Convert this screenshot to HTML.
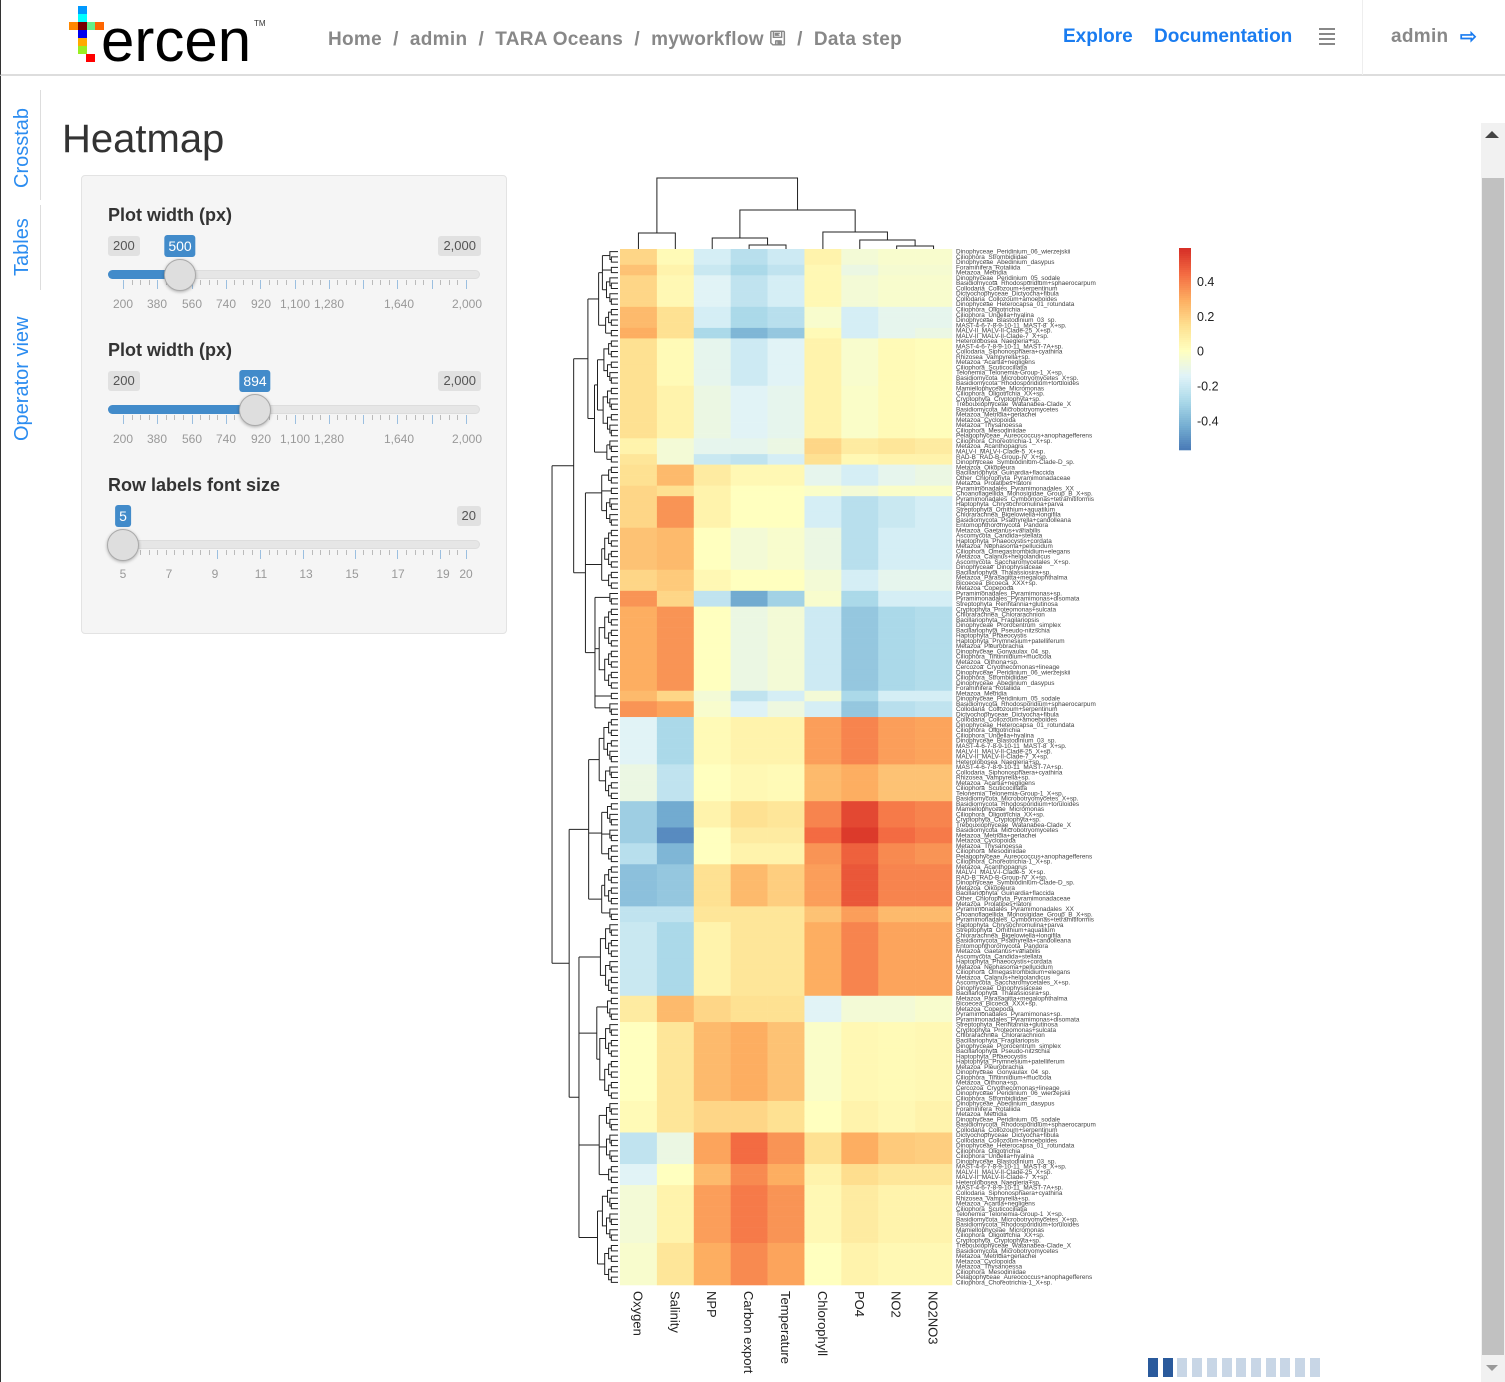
<!DOCTYPE html>
<html><head><meta charset="utf-8"><style>
*{box-sizing:border-box;margin:0;padding:0}
body{width:1505px;height:1382px;overflow:hidden;background:#fff;font-family:"Liberation Sans",sans-serif;position:relative}
.abs{position:absolute}
.nav{left:0;top:0;width:1505px;height:76px;border-bottom:2px solid #ddd;border-left:1px solid #333}
.bc{font-size:19px;font-weight:bold;color:#888;top:25px;white-space:nowrap;letter-spacing:0.3px}
.navlink{font-size:19px;font-weight:bold;color:#1a7cf0;top:25px}
.px{position:absolute;width:9px;height:8px}
.vtab{color:#2b8cf0;font-size:20px;transform:rotate(-90deg);transform-origin:left top;white-space:nowrap}
.panel{left:81px;top:175px;width:426px;height:459px;background:#f5f5f5;border:1px solid #e3e3e3;border-radius:4px}
.slabel{font-size:18px;font-weight:bold;color:#333;left:108px}
.mm{background:#e1e1e1;color:#555;font-size:13px;padding:2px 5px;border-radius:3px;height:20px;line-height:16px}
.bub{background:#428bca;color:#fff;font-size:14px;padding:2px 4px;border-radius:3px;height:22px;line-height:18px}
.track{left:108px;width:372px;height:9px;background:#e6e6e6;border:1px solid #ddd;border-radius:5px}
.fill{left:108px;height:9px;background:#428bca;border-radius:5px 0 0 5px}
.handle{width:32px;height:32px;border-radius:50%;background:#dedede;border:1px solid #aaa;box-shadow:0 1px 3px rgba(0,0,0,.3)}
.tl{font-size:12px;color:#999;transform:translateX(-50%)}
</style></head><body>
<div class="abs nav">
  <div class="abs" style="left:0;top:0;width:270px;height:76px">
    <div class="px" style="left:77px;top:6px;background:#09f"></div>
    <div class="px" style="left:77px;top:14px;background:#0ff"></div>
    <div class="px" style="left:68px;top:22px;background:#f80"></div>
    <div class="px" style="left:77px;top:22px;background:#700"></div>
    <div class="px" style="left:86px;top:22px;background:#6e8"></div>
    <div class="px" style="left:94px;top:22px;background:#f60"></div>
    <div class="px" style="left:77px;top:30px;background:#00e"></div>
    <div class="px" style="left:77px;top:38px;background:#fa0"></div>
    <div class="px" style="left:77px;top:46px;background:#9e2"></div>
    <div class="px" style="left:85px;top:54px;background:#f00"></div>
    <div class="abs" style="left:100px;top:6px;font-size:60px;color:#000;letter-spacing:0px">ercen</div>
    <div class="abs" style="left:253px;top:19px;font-size:8px;color:#333">TM</div>
  </div>
  <div class="abs bc" style="left:327px">
    <span>Home</span> &nbsp;/&nbsp; <span>admin</span> &nbsp;/&nbsp; <span>TARA Oceans</span> &nbsp;/&nbsp; <span>myworkflow &#x1F5AB;</span> &nbsp;/&nbsp; <span>Data step</span>
  </div>
  <div class="abs navlink" style="left:1062px;top:26px">Explore</div>
  <div class="abs navlink" style="left:1153px;top:26px">Documentation</div>
  <div class="abs" style="left:1318px;top:28px;width:16px">
    <div style="height:2px;background:#888;margin-bottom:3px"></div><div style="height:2px;background:#888;margin-bottom:3px"></div><div style="height:2px;background:#888;margin-bottom:3px"></div><div style="height:2px;background:#888"></div>
  </div>
  <div class="abs" style="left:1361px;top:0;width:1px;height:75px;background:#eee"></div>
  <div class="abs bc" style="left:1390px;top:26px">admin</div>
  <div class="abs" style="left:1459px;top:24px;font-size:20px;color:#1a7cf0;font-weight:bold">&#x21E8;</div>
</div>
<div class="abs" style="left:0;top:76px;width:1px;height:1306px;background:#333"></div>
<div class="abs" style="left:40px;top:90px;width:1px;height:110px;background:#ddd"></div>
<div class="abs" style="left:40px;top:205px;width:1px;height:85px;background:#ddd"></div>
<div class="abs vtab" style="left:11px;top:188px">Crosstab</div>
<div class="abs vtab" style="left:11px;top:276px">Tables</div>
<div class="abs vtab" style="left:11px;top:441px">Operator view</div>
<div class="abs" style="left:62px;top:117px;font-size:40px;color:#333">Heatmap</div>

<div class="abs panel"></div>
<div id="sliders"></div>

<div class="abs" style="left:1481px;top:123px;width:24px;height:1259px;background:#f1f1f1">
  <div class="abs" style="left:4px;top:8px;width:0;height:0;border-left:7px solid transparent;border-right:7px solid transparent;border-bottom:7px solid #444"></div>
  <div class="abs" style="left:1px;top:55px;width:22px;height:1177px;background:#c1c1c1"></div>
  <div class="abs" style="left:5px;top:1242px;width:0;height:0;border-left:6px solid transparent;border-right:6px solid transparent;border-top:6px solid #999"></div>
</div>
<div class="abs" style="left:1148px;top:1358px" id="pager"></div>

<svg id="chart" class="abs" style="left:0;top:0" width="1480" height="1382"></svg>

<script>
const columns=["Oxygen","Salinity","NPP","Carbon export","Temperature","Chlorophyll","PO4","NO2","NO2NO3"];
const bandRows=[3,2,6,4,2,9,10,3,2,4,2,6,8,4,3,16,2,3,9,7,5,3,4,8,3,14,5,15,6,6,4,11,8];
const bandValues=[
[.15,.02,-.15,-.22,-.17,.05,-.05,-.03,-.03],
[.2,.05,-.18,-.25,-.2,.03,-.08,-.04,-.04],
[.15,.03,-.12,-.2,-.15,.03,-.05,-.03,-.03],
[.22,.12,-.15,-.25,-.22,-.03,-.15,-.1,-.1],
[.25,.12,-.25,-.35,-.3,.02,-.15,-.1,-.08],
[.12,.02,-.1,-.17,-.12,.05,-.03,.02,.01],
[.12,.05,-.08,-.12,-.1,.05,-.02,.02,.01],
[.05,-.05,-.1,-.1,-.08,.15,.08,.1,.08],
[.1,-.05,-.18,-.2,-.15,.12,.03,.05,.05],
[.12,.22,.08,.03,.03,-.1,-.15,-.1,-.08],
[.15,.12,.05,0,0,-.02,-.05,-.02,-.02],
[.15,.3,.05,0,0,-.15,-.22,-.18,-.15],
[.2,.22,0,-.05,-.03,-.08,-.22,-.15,-.15],
[.15,.18,.03,0,0,-.05,-.15,-.1,-.1],
[.3,.15,-.2,-.38,-.27,-.03,-.25,-.15,-.15],
[.25,.3,0,-.08,-.05,-.17,-.3,-.25,-.23],
[.22,.15,-.05,-.2,-.15,-.05,-.25,-.15,-.15],
[.3,.27,-.03,-.13,-.07,-.15,-.3,-.22,-.2],
[-.12,-.25,.02,.05,.05,.28,.33,.28,.27],
[-.08,-.2,0,.03,.02,.22,.25,.2,.2],
[-.28,-.38,.05,.12,.1,.33,.45,.35,.33],
[-.28,-.45,0,.08,.08,.38,.48,.38,.35],
[-.22,-.35,0,.05,.05,.3,.4,.32,.3],
[-.32,-.3,.12,.22,.17,.28,.42,.33,.33],
[-.2,-.2,.1,.1,.1,.2,.28,.22,.22],
[-.18,-.25,.05,.1,.1,.25,.33,.27,.27],
[.08,.22,.15,.12,.12,-.12,-.05,-.05,-.03],
[0,.1,.22,.25,.2,-.02,.03,.02,.03],
[.02,.1,.15,.15,.12,0,.05,.03,.05],
[-.2,-.08,.27,.38,.3,.12,.25,.18,.17],
[-.12,0,.22,.32,.25,.05,.13,.1,.1],
[-.05,.05,.28,.35,.3,.03,.08,.05,.05],
[-.03,.1,.25,.32,.27,0,.05,.03,.03]];
const colorTicks=[0.4,0.2,0,-0.2,-0.4];
const labelNames=["Dinophyceae_Peridinium_06_wierzejskii","Ciliophora_Strombidiidae","Dinophyceae_Abedinium_dasypus","Foraminifera_Rotaliida","Metazoa_Metridia","Dinophyceae_Peridinium_05_sodale","Basidiomycota_Rhodosporidium+sphaerocarpum","Collodaria_Collozoum+serpentinum","Dictyochophyceae_Dictyocha+fibula","Collodaria_Collozoum+amoeboides","Dinophyceae_Heterocapsa_01_rotundata","Ciliophora_Oligotrichia","Ciliophora_Undella+hyalina","Dinophyceae_Blastodinium_03_sp.","MAST-4-6-7-8-9-10-11_MAST-8_X+sp.","MALV-II_MALV-II-Clade-25_X+sp.","MALV-II_MALV-II-Clade-7_X+sp.","Heterolobosea_Naegleria+sp.","MAST-4-6-7-8-9-10-11_MAST-7A+sp.","Collodaria_Siphonosphaera+cyathina","Rhizosea_Vampyrella+sp.","Metazoa_Acartia+negligens","Ciliophora_Scuticociliatia","Telonemia_Telonemia-Group-1_X+sp.","Basidiomycota_Microbotryomycetes_X+sp.","Basidiomycota_Rhodosporidium+toruloides","Mamiellophyceae_Micromonas","Ciliophora_Oligotrichia_XX+sp.","Cryptophyta_Cryptophyta+sp.","Trebouxiophyceae_Watanabea-Clade_X","Basidiomycota_Microbotryomycetes","Metazoa_Metridia+gerlachei","Metazoa_Cyclopoida","Metazoa_Thysanoessa","Ciliophora_Mesodiniidae","Pelagophyceae_Aureococcus+anophagefferens","Ciliophora_Choreotrichia-1_X+sp.","Metazoa_Acanthopagrus","MALV-I_MALV-I-Clade-5_X+sp.","RAD-B_RAD-B-Group-IV_X+sp.","Dinophyceae_Symbiodinium-Clade-D_sp.","Metazoa_Oikopleura","Bacillariophyta_Guinardia+flaccida","Other_Chlorophyta_Pyramimonadaceae","Metazoa_Prolatipes+latoni","Pyramimonadales_Pyramimonadales_XX","Choanoflagellida_Monosigidae_Group_B_X+sp.","Pyramimonadales_Cymbomonas+tetramitiformis","Haptophyta_Chrysochromulina+parva","Streptophyta_Ornithium+aquatilum","Chlorarachnea_Bigelowiella+longifila","Basidiomycota_Psathyrella+candolleana","Entomophthoromycota_Pandora","Metazoa_Gaetanus+variabilis","Ascomycota_Candida+stellata","Haptophyta_Phaeocystis+cordata","Metazoa_Nephasoma+pellucidum","Ciliophora_Omegastrombidium+elegans","Metazoa_Calanus+helgolandicus","Ascomycota_Saccharomycetales_X+sp.","Dinophyceae_Dinophysiaceae","Bacillariophyta_Thalassiosira+sp.","Metazoa_Parasagitta+megalophthalma","Bicoecea_Bicoeca_XXX+sp.","Metazoa_Copepoda","Pyramimonadales_Pyramimonas+sp.","Pyramimonadales_Pyramimonas+disomata","Streptophyta_Renhtannia+glutinosa","Cryptophyta_Proteomonas+sulcata","Chlorarachnea_Chlorarachnion","Bacillariophyta_Fragilariopsis","Dinophyceae_Prorocentrum_simplex","Bacillariophyta_Pseudo-nitzschia","Haptophyta_Phaeocystis","Haptophyta_Prymnesium+patelliferum","Metazoa_Pleurobrachia","Dinophyceae_Gonyaulax_04_sp.","Ciliophora_Tintinnidium+mucicola","Metazoa_Oithona+sp.","Cercozoa_Cryothecomonas+lineage"];
</script>
<script>
const NS="http://www.w3.org/2000/svg";
const svg=document.getElementById('chart');
function mk(tag,attrs,parent){const e=document.createElementNS(NS,tag);for(const k in attrs)e.setAttribute(k,attrs[k]);(parent||svg).appendChild(e);return e;}
const stops=["#4575b4","#74add1","#abd9e9","#e0f3f8","#ffffbf","#fee090","#fdae61","#f46d43","#d73027"];
const vmin=-0.5,vmax=0.5;
function hex(c){return [1,3,5].map(i=>parseInt(c.substr(i,2),16));}
function color(v){let t=(v-vmin)/(vmax-vmin);t=Math.max(0,Math.min(1,t))*(stops.length-1);const i=Math.min(stops.length-2,Math.floor(t)),f=t-i;const a=hex(stops[i]),b=hex(stops[i+1]);return "rgb("+a.map((x,k)=>Math.round(x+(b[k]-x)*f)).join(",")+")";}
const rowValues=[];
bandRows.forEach((n,b)=>{for(let i=0;i<n;i++){rowValues.push(bandValues[b]);}});
const nRows=rowValues.length;
const X0=620,X1=952,Y0=249,Y1=1285;
const cw=(X1-X0)/columns.length, rh=(Y1-Y0)/nRows;
const xs=i=>X0+i*cw, ys=r=>Y0+r*rh;
const gCells=mk('g',{});


rowValues.forEach((vals,r)=>{vals.forEach((v,c)=>{
  const rect=mk('rect',{x:xs(c),y:ys(r),width:cw+0.3,height:rh+0.3,fill:color(v)},gCells);
  
  
});});
const gLab=mk('g',{'font-size':'6.4','fill':'#444','font-family':'Liberation Sans, sans-serif'});


for(let r=0;r<nRows;r++){const t=mk('text',{x:956,y:ys(r)+rh-0.6},gLab);t.textContent=labelNames[r%labelNames.length];}
columns.forEach((c,i)=>{const t=mk('text',{x:0,y:0,'font-size':'13','fill':'#222',transform:`translate(${xs(i)+cw/2-5},${Y1+6}) rotate(90)`,'font-family':'Liberation Sans, sans-serif'});t.textContent=c;

});
const gD=mk('g',{stroke:'#222','stroke-width':'1',fill:'none'});


const colTree=[[0,1,233],[[2,[3,4,245],238],[5,[6,[7,8,246],240],232],210],178];
function cnode(n){if(typeof n==='number')return {x:xs(n)+cw/2,y:Y0};
 const a=cnode(n[0]),b=cnode(n[1]),h=n[2];
 mk('path',{d:`M${a.x},${a.y}V${h}H${b.x}V${b.y}`},gD);return {x:(a.x+b.x)/2,y:h};}
cnode(colTree);
const gR=mk('g',{stroke:'#222','stroke-width':'1',fill:'none'});


const bandStart=[];{let s=0;bandRows.forEach(n=>{bandStart.push(s);s+=n;});}
const rowTree=[[[[[0,1,2],[3,4]],[[5,6],[7,8]]],[[9,10,11],[12,13],[14,15,16,17]]],[[[18,19],[20,21,22],[23,24]],[[25],[26,27],[28,29,30],[31,32]]]];
const xd=s=>618-4.7*Math.sqrt(s);
function rangeNode(a,b){
 if(b-a===1)return {x:618,y:ys(a)+rh/2,s:1};
 const m=Math.floor((a+b)/2);const l=rangeNode(a,m),r=rangeNode(m,b);const s=b-a,x=xd(s);
 mk('path',{d:`M${l.x},${l.y}H${x}V${r.y}H${r.x}`},gR);return {x,y:(l.y+r.y)/2,s};}
function rnode(n){
 if(typeof n==='number')return rangeNode(bandStart[n],bandStart[n]+bandRows[n]);
 if(n.length===1)return rnode(n[0]);
 const ch=n.map(rnode);const s=ch.reduce((a,c)=>a+c.s,0);const x=Math.min(xd(s),...ch.map(c=>c.x-3));
 const ysx=ch.map(c=>c.y);mk('path',{d:`M${x},${Math.min(...ysx)}V${Math.max(...ysx)}`},gR);
 ch.forEach(c=>mk('path',{d:`M${c.x},${c.y}H${x}`},gR));
 return {x,y:(Math.min(...ysx)+Math.max(...ysx))/2,s};}
rnode(rowTree);
const CB={x:1179,y0:248,y1:450,w:12,top:0.59,bot:-0.57};
const cbv=y=>CB.top-(y-CB.y0)/(CB.y1-CB.y0)*(CB.top-CB.bot);
const cby=v=>CB.y0+(CB.top-v)/(CB.top-CB.bot)*(CB.y1-CB.y0);
const gCB=mk('g',{});


for(let y=CB.y0;y<CB.y1;y+=2)mk('rect',{x:CB.x,y:y,width:CB.w,height:2.3,fill:color(cbv(y+1)*0.86)},gCB);
colorTicks.forEach(v=>{const t=mk('text',{x:1197,y:cby(v)+5,'font-size':'12.5','fill':'#222','font-family':'Liberation Sans, sans-serif'},gCB);t.textContent=v===0?'0':String(v);});

const sliders=[
 {top:205,label:"Plot width (px)",val:"500",hx:180,ticks:[["200",123],["380",157],["560",192],["740",226],["920",261],["1,100",295],["1,280",329],["1,640",399],["2,000",467]],min:"200",max:"2,000",majors:[123,157,192,226,260,294,329,363,397,432,466]},
 {top:340,label:"Plot width (px)",val:"894",hx:255,ticks:[["200",123],["380",157],["560",192],["740",226],["920",261],["1,100",295],["1,280",329],["1,640",399],["2,000",467]],min:"200",max:"2,000",majors:[123,157,192,226,260,294,329,363,397,432,466]},
 {top:475,label:"Row labels font size",val:"5",hx:123,ticks:[["5",123],["7",169],["9",215],["11",261],["13",306],["15",352],["17",398],["19",443],["20",466]],min:null,max:"20",majors:[123,169,215,261,306,352,398,443,466]}];
const host=document.getElementById('sliders');
sliders.forEach((s,si)=>{
 let h=`<div class="abs slabel" style="top:${s.top}px">${s.label}</div>`;
 if(s.min)h+=`<div class="abs mm" style="left:108px;top:${s.top+31}px">${s.min}</div>`;
 h+=`<div class="abs mm" style="right:${1505-481}px;top:${s.top+31}px">${s.max}</div>`;
 h+=`<div class="abs bub" style="left:${s.hx}px;top:${s.top+30}px;transform:translateX(-50%)">${s.val}</div>`;
 h+=`<div class="abs track" style="top:${s.top+65}px"></div><div class="abs fill" style="top:${s.top+65}px;width:${s.hx-108}px"></div>`;
 for(let x=123;x<=466;x+=(466-123)/40){const maj=s.majors.some(m=>Math.abs(m-x)<3);h+=`<div class="abs" style="left:${x}px;top:${s.top+75}px;width:1px;height:${maj?9:5}px;background:${maj?'#9bbfe0':'#bbb'}"></div>`;}
 s.ticks.forEach(t=>{h+=`<div class="abs tl" style="left:${t[1]}px;top:${s.top+92}px">${t[0]}</div>`;});
 h+=`<div class="abs handle" style="left:${s.hx-16}px;top:${s.top+54}px"></div>`;
 host.insertAdjacentHTML('beforeend',h);
});
const pg=document.getElementById('pager');
for(let i=0;i<12;i++){const d=document.createElement('div');d.style.cssText=`position:absolute;left:${i*14.7}px;top:0;width:10px;height:19px;background:${i<2?'#2a5a9c':'#c8d6e6'}`;


pg.appendChild(d);}
</script>
</body></html>
